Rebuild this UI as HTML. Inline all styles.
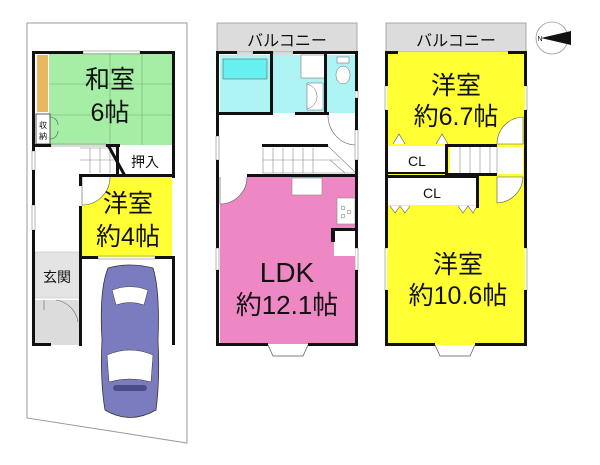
<!DOCTYPE html>
<html><head><meta charset="utf-8"><style>
html,body{margin:0;padding:0;background:#fff;width:600px;height:465px;overflow:hidden}
svg{display:block}
text{font-family:"Liberation Sans","Noto Sans CJK JP",sans-serif;fill:#111}
</style></head><body>
<svg width="600" height="465" viewBox="0 0 600 465" xmlns="http://www.w3.org/2000/svg">
<!-- LEFT: 1F -->
<polygon points="27,23 187,23 187,443 27,418" fill="#fff" stroke="#999" stroke-width="1"/>
<rect x="33" y="52" width="140" height="293" fill="#fff"/>
<rect x="49" y="53" width="123" height="92" fill="#a6eea6"/>
<line x1="49" y1="84" x2="172" y2="84" stroke="#7a7" stroke-width="0.6"/>
<line x1="49" y1="115" x2="172" y2="115" stroke="#7a7" stroke-width="0.6"/>
<line x1="110" y1="53" x2="110" y2="145" stroke="#7a7" stroke-width="0.6"/>
<line x1="142" y1="53" x2="142" y2="145" stroke="#7a7" stroke-width="0.6"/>
<rect x="37" y="55" width="11" height="57" fill="#e8b860"/>
<rect x="36" y="114" width="14" height="30" fill="#fff" stroke="#333" stroke-width="0.8"/>
<text x="43" y="128" font-size="8" text-anchor="middle">収</text>
<text x="43" y="139" font-size="8" text-anchor="middle">納</text>
<path d="M50,117 A8,8 0 0 1 58,125 M50,139 A8,8 0 0 0 58,131" fill="none" stroke="#555" stroke-width="0.6"/>
<text x="110" y="88" font-size="25" text-anchor="middle">和室</text>
<text x="110" y="121" font-size="25" text-anchor="middle">6帖</text>
<g stroke="#888" stroke-width="0.6">
<line x1="80" y1="148" x2="118" y2="148"/><line x1="80" y1="160" x2="118" y2="160"/>
<line x1="90" y1="148" x2="90" y2="173"/><line x1="100" y1="148" x2="100" y2="173"/><line x1="110" y1="148" x2="110" y2="173"/>
</g>
<rect x="118" y="147" width="54" height="27" fill="#fff"/>
<text x="145" y="167" font-size="14" text-anchor="middle">押入</text>
<rect x="82" y="177" width="90" height="80" fill="#ffff33"/>
<path d="M82,177 L82,205 A28,28 0 0 0 110,177" fill="#fff" stroke="#555" stroke-width="0.6"/>
<text x="128" y="212" font-size="25" text-anchor="middle">洋室</text>
<text x="128" y="245" font-size="25" text-anchor="middle">約4帖</text>
<rect x="35" y="252" width="45" height="46" fill="#e4e4e4" stroke="#bbb" stroke-width="0.5"/>
<text x="57" y="282" font-size="14" text-anchor="middle">玄関</text>
<rect x="35" y="300" width="45" height="45" fill="#dcdcdc"/>
<path d="M44,300 L44,310 M78,322 A26,26 0 0 0 56,300" fill="none" stroke="#666" stroke-width="0.6"/>
<g fill="none" stroke="#999" stroke-width="0.7">
<rect x="32" y="151" width="3" height="19"/><rect x="32" y="205" width="3" height="25"/>
<rect x="83" y="51" width="57" height="3"/><rect x="98" y="256" width="57" height="3"/>
<rect x="51" y="144" width="55" height="2"/>
<rect x="237" y="51" width="16" height="3"/><rect x="273" y="51" width="20" height="3"/>
<rect x="216" y="136" width="3" height="24"/><rect x="216" y="248" width="3" height="22"/>
<rect x="355" y="91" width="3" height="7"/><rect x="355" y="130" width="3" height="30"/><rect x="355" y="248" width="3" height="22"/>
<rect x="398" y="51" width="110" height="3"/>
<rect x="385" y="86" width="3" height="24"/><rect x="385" y="248" width="3" height="42"/>
<rect x="524" y="86" width="3" height="24"/><rect x="524" y="248" width="3" height="42"/>
</g>
<g fill="#111">
<rect x="33" y="51" width="50" height="3"/><rect x="140" y="51" width="35" height="3"/>
<rect x="32" y="51" width="3" height="100"/><rect x="32" y="170" width="3" height="35"/><rect x="32" y="230" width="3" height="116"/>
<rect x="172" y="51" width="3" height="127"/><rect x="172" y="257" width="3" height="88"/>
<rect x="33" y="144" width="18" height="3"/><rect x="106" y="144" width="14" height="3"/>
<rect x="80" y="174" width="95" height="3"/>
<rect x="79" y="174" width="3" height="12"/><rect x="79" y="206" width="3" height="140"/>
<rect x="80" y="256" width="18" height="3"/><rect x="155" y="256" width="20" height="3"/>
<rect x="33" y="343" width="18" height="3"/>
<rect x="116" y="146" width="3" height="28"/>
</g>
<line x1="108" y1="145" x2="125" y2="176" stroke="#111" stroke-width="3"/>
<g>
<path d="M108,268 Q130,262 153,268 Q160,290 158,340 Q160,380 156,410 Q130,425 105,410 Q100,380 102,340 Q99,290 108,268 Z" fill="#7b7bc0" stroke="#333" stroke-width="0.8"/>
<path d="M112,290 Q130,283 148,290 L144,305 Q130,300 116,305 Z" fill="#fff" stroke="#333" stroke-width="0.5"/>
<path d="M107,355 Q130,345 153,355 L151,382 Q130,376 109,382 Z" fill="#fff" stroke="#333" stroke-width="0.5"/>
<rect x="113" y="385" width="34" height="6" rx="3" fill="#4c4c88"/>
</g>

<!-- MIDDLE: 2F -->
<rect x="217" y="23" width="140" height="29" fill="#dcdcdc" stroke="#999" stroke-width="0.8"/>
<text x="287" y="46" font-size="16" text-anchor="middle">バルコニー</text>
<rect x="218" y="52" width="138" height="293" fill="#fff" opacity="0"/>
<rect x="220" y="55" width="135" height="58" fill="#aef4f4"/>
<rect x="223" y="59" width="44" height="20" fill="#66f0f0" stroke="#666" stroke-width="0.6"/>
<rect x="301" y="55" width="24" height="23" fill="#fff" stroke="#666" stroke-width="0.5"/>
<path d="M307,83 L323,83 L323,110 L307,110 Z" fill="#fff" stroke="#666" stroke-width="0.5"/>
<path d="M307,84 A14,13 0 0 1 307,109" fill="none" stroke="#666" stroke-width="0.5"/>
<ellipse cx="343" cy="75" rx="7" ry="9" fill="#fff" stroke="#666" stroke-width="0.5"/>
<rect x="337" y="57" width="12" height="6" fill="#fff" stroke="#666" stroke-width="0.5"/>
<path d="M328,114 A28,30 0 0 0 355,145" fill="none" stroke="#666" stroke-width="0.6"/>
<g stroke="#888" stroke-width="0.6">
<line x1="263" y1="160" x2="340" y2="160"/><line x1="263" y1="173" x2="355" y2="173"/>
<line x1="263" y1="148" x2="263" y2="173"/><line x1="273" y1="148" x2="273" y2="173"/><line x1="283" y1="148" x2="283" y2="173"/>
<line x1="293" y1="148" x2="293" y2="173"/><line x1="303" y1="148" x2="303" y2="173"/><line x1="313" y1="148" x2="313" y2="173"/>
<line x1="328" y1="146" x2="355" y2="172"/><line x1="330" y1="160" x2="345" y2="173"/>
</g>
<rect x="220" y="177" width="135" height="167" fill="#ee88c4"/>
<path d="M220,177 L220,204 A27,27 0 0 0 247,177" fill="#fff" stroke="#555" stroke-width="0.6"/>
<rect x="292" y="178" width="30" height="17" fill="#fff" stroke="#888" stroke-width="0.6"/>
<rect x="337" y="198" width="18" height="26" fill="#fff" stroke="#888" stroke-width="0.6"/>
<circle cx="343" cy="208" r="2" fill="none" stroke="#666" stroke-width="0.5"/><circle cx="349" cy="212" r="2" fill="none" stroke="#666" stroke-width="0.5"/><circle cx="343" cy="216" r="2" fill="none" stroke="#666" stroke-width="0.5"/>
<rect x="334" y="229" width="21" height="27" fill="#fff"/>
<text x="287" y="282" font-size="28" text-anchor="middle">LDK</text>
<text x="287" y="314" font-size="26" text-anchor="middle">約12.1帖</text>
<path d="M268,345 L273,356 L303,356 L308,345" fill="#fff" stroke="#555" stroke-width="0.7"/>
<g fill="#111">
<rect x="217" y="51" width="20" height="3"/><rect x="253" y="51" width="20" height="3"/><rect x="293" y="51" width="65" height="3"/>
<rect x="216" y="51" width="3" height="85"/><rect x="216" y="160" width="3" height="88"/><rect x="216" y="270" width="3" height="76"/>
<rect x="355" y="51" width="3" height="40"/><rect x="355" y="98" width="3" height="32"/><rect x="355" y="160" width="3" height="88"/><rect x="355" y="270" width="3" height="76"/>
<rect x="217" y="343" width="51" height="3"/><rect x="308" y="343" width="50" height="3"/>
<rect x="270" y="53" width="3" height="60"/><rect x="324" y="53" width="3" height="60"/>
<rect x="217" y="112" width="56" height="3"/><rect x="295" y="112" width="34" height="3"/>
<rect x="262" y="144" width="66" height="3"/>
<rect x="247" y="174" width="111" height="3"/>
<rect x="331" y="228" width="4" height="14"/><rect x="331" y="228" width="26" height="3"/>
</g>

<!-- RIGHT: 3F -->
<rect x="386" y="23" width="140" height="29" fill="#dcdcdc" stroke="#999" stroke-width="0.8"/>
<text x="456" y="46" font-size="16" text-anchor="middle">バルコニー</text>
<rect x="387" y="52" width="138" height="293" fill="#ffff33"/>
<rect x="388" y="146" width="57" height="27" fill="#fff"/>
<text x="417" y="166" font-size="14" text-anchor="middle">CL</text>
<rect x="450" y="147" width="73" height="27" fill="#fff"/>
<g stroke="#888" stroke-width="0.6">
<line x1="460" y1="147" x2="460" y2="173"/><line x1="470" y1="147" x2="470" y2="173"/><line x1="480" y1="147" x2="480" y2="173"/><line x1="490" y1="147" x2="490" y2="173"/><line x1="497" y1="147" x2="497" y2="173"/>
</g>
<rect x="388" y="178" width="89" height="27" fill="#fff"/>
<text x="432" y="198" font-size="14" text-anchor="middle">CL</text>
<path d="M523,117 A27,27 0 0 0 497,144 L523,144 Z" fill="#fff" stroke="#555" stroke-width="0.6"/>
<path d="M497,177 L497,203 A27,27 0 0 0 523,177 Z" fill="#fff" stroke="#555" stroke-width="0.6"/>
<path d="M393,144 L399,134 L405,144 M436,144 L442,134 L448,144 M390,206 L395,213 L400,206 L405,213 L410,206 M458,206 L463,213 L468,206 L473,213 L477,206" fill="#fff" stroke="#555" stroke-width="0.6"/>
<text x="456" y="94" font-size="25" text-anchor="middle">洋室</text>
<text x="456" y="125" font-size="25" text-anchor="middle">約6.7帖</text>
<text x="458" y="273" font-size="25" text-anchor="middle">洋室</text>
<text x="458" y="304" font-size="25" text-anchor="middle">約10.6帖</text>
<path d="M435,345 L440,356 L470,356 L475,345" fill="#fff" stroke="#555" stroke-width="0.7"/>
<g fill="#111">
<rect x="386" y="51" width="12" height="3"/><rect x="508" y="51" width="19" height="3"/>
<rect x="385" y="51" width="3" height="35"/><rect x="385" y="110" width="3" height="138"/><rect x="385" y="290" width="3" height="56"/>
<rect x="524" y="51" width="3" height="35"/><rect x="524" y="110" width="3" height="138"/><rect x="524" y="290" width="3" height="56"/>
<rect x="386" y="343" width="49" height="3"/><rect x="475" y="343" width="52" height="3"/>
<rect x="388" y="172" width="60" height="2"/>
<rect x="445" y="144" width="3" height="32"/><rect x="445" y="144" width="52" height="3"/><rect x="445" y="173" width="52" height="3"/>
<rect x="386" y="175" width="93" height="3"/><rect x="476" y="175" width="3" height="33"/>
</g>
<circle cx="552" cy="38" r="16" fill="#fff" stroke="#999" stroke-width="0.8"/>
<polygon points="541,38 571,31 571,45" fill="#111"/>
<text x="540" y="41" font-size="7" text-anchor="middle">N</text>
</svg>
</body></html>
